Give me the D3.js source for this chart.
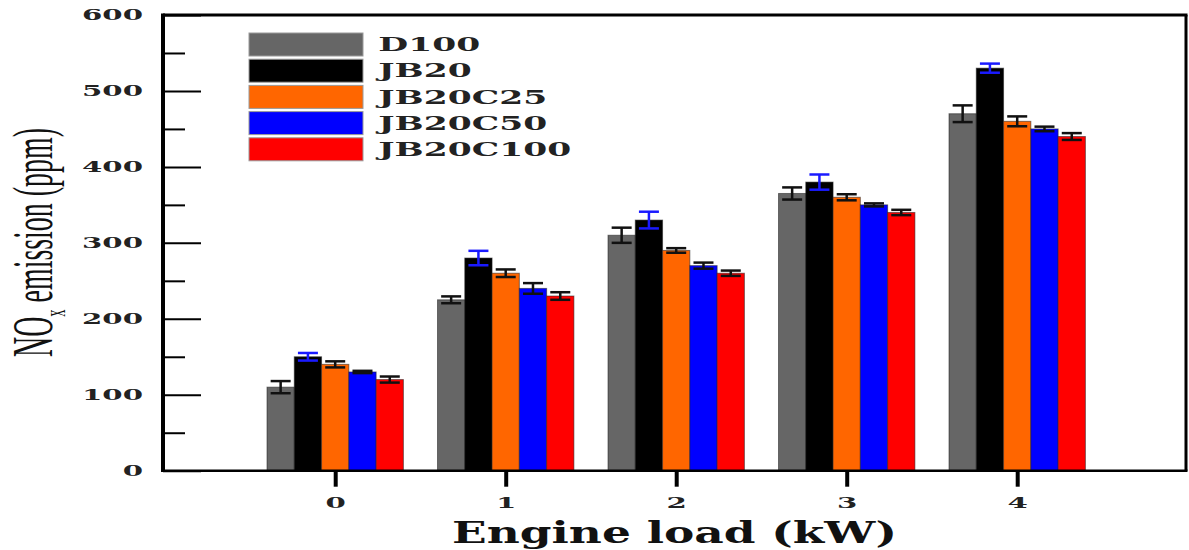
<!DOCTYPE html>
<html>
<head>
<meta charset="utf-8">
<script src="https://cdn.jsdelivr.net/npm/d3@7"></script>
<style>
  html, body { margin: 0; padding: 0; background: #fff; }
  svg { display: block; }
</style>
</head>
<body>
<svg id="chart" width="1189" height="550"></svg>
<script>
// Engine load categories (kW)
const loads = [0, 1, 2, 3, 4];
const seriesNames = ["D100", "JB20", "JB20C25", "JB20C50", "JB20C100"];

// NOx emission (ppm) per fuel blend
const d100     = [110, 225, 310, 365, 470];
const jb20     = [150, 280, 330, 380, 530];
const jb20c25  = [140, 260, 290, 360, 460];
const jb20c50  = [130, 240, 270, 350, 450];
const jb20c100 = [120, 230, 260, 340, 440];

// Error bar half-heights (ppm)
const d100Err     = [8, 4.5, 10, 8, 11];
const jb20Err     = [5, 9.5, 11, 10, 6];
const jb20c25Err  = [4, 5, 3, 4, 6.5];
const jb20c50Err  = [1.5, 7, 4, 2, 3];
const jb20c100Err = [4, 5, 3.5, 3.5, 4.5];

const yTicks = [0, 100, 200, 300, 400, 500, 600];
const yMinorTicks = [50, 150, 250, 350, 450, 550];

const seriesValues = [d100, jb20, jb20c25, jb20c50, jb20c100];
const seriesErrors = [d100Err, jb20Err, jb20c25Err, jb20c50Err, jb20c100Err];
const barColors = ["#666666", "#000000", "#ff6600", "#0000ff", "#ff0000"];
const errColors = ["#111111", "#1a1aff", "#111111", "#111111", "#111111"];

const svg = d3.select("#chart");
const plotLeft = 163, plotRight = 1186, plotTop = 15, plotBottom = 470.7;

const x = d3.scaleLinear().domain([-1.01, 4.99]).range([plotLeft, plotRight]);
const y = d3.scaleLinear().domain([0, 600]).range([plotBottom, plotTop]);

const barUnit = 0.16;                        // bar width in category units
const barW = x(barUnit) - x(0);

const serifBold = "'DejaVu Serif', serif";

// Bars
const plot = svg.append("g");
seriesValues.forEach((vals, j) => {
  const g = plot.append("g");
  g.selectAll("rect")
    .data(loads.map((c, i) => ({ c, v: vals[i] })))
    .join("rect")
    .attr("x", d => x(d.c + (j - 2.5) * barUnit))
    .attr("y", d => y(d.v))
    .attr("width", barW)
    .attr("height", d => y(0) - y(d.v))
    .attr("fill", barColors[j])
    .attr("stroke", "#222")
    .attr("stroke-opacity", 0.55)
    .attr("stroke-width", 1);
});

// Error bars
seriesValues.forEach((vals, j) => {
  const errs = seriesErrors[j];
  const g = plot.append("g")
    .attr("stroke", errColors[j])
    .attr("stroke-width", 2.5);
  const data = loads.map((c, i) => ({ c, v: vals[i], e: errs[i] }));
  const cx = d => x(d.c + (j - 2) * barUnit);
  const cap = 10;
  g.selectAll("line.v").data(data).join("line").attr("class", "v")
    .attr("x1", cx).attr("x2", cx)
    .attr("y1", d => y(d.v + d.e)).attr("y2", d => y(d.v - d.e));
  g.selectAll("line.t").data(data).join("line").attr("class", "t")
    .attr("x1", d => cx(d) - cap).attr("x2", d => cx(d) + cap)
    .attr("y1", d => y(d.v + d.e)).attr("y2", d => y(d.v + d.e));
  g.selectAll("line.b").data(data).join("line").attr("class", "b")
    .attr("x1", d => cx(d) - cap).attr("x2", d => cx(d) + cap)
    .attr("y1", d => y(d.v - d.e)).attr("y2", d => y(d.v - d.e));
});

// Y axis: major ticks pointing inward, with labels
const yAxisG = svg.append("g")
  .attr("transform", `translate(${plotLeft},0)`)
  .call(d3.axisLeft(y).tickValues(yTicks).tickSize(-38).tickPadding(20));
yAxisG.select(".domain").remove();
yAxisG.selectAll(".tick line").attr("stroke", "#000").attr("stroke-width", 2);
const yLabels = yAxisG.selectAll(".tick text")
  .attr("font-family", serifBold)
  .attr("font-weight", "bold")
  .attr("font-size", 14)
  .attr("fill", "#222");
// widen tick digits
const nat600 = yLabels.filter(d => d === 600).node().getComputedTextLength();
const tickStretch = 61 / nat600;
yLabels.attr("x", 0)
  .attr("transform", `translate(-20,0) scale(${tickStretch},1)`);

// Y axis minor ticks
const yMinorG = svg.append("g")
  .attr("transform", `translate(${plotLeft},0)`)
  .call(d3.axisLeft(y).tickValues(yMinorTicks).tickSize(-22).tickFormat(""));
yMinorG.select(".domain").remove();
yMinorG.selectAll(".tick line").attr("stroke", "#000").attr("stroke-width", 2);

// X axis: ticks pointing outward
const xAxisG = svg.append("g")
  .attr("transform", `translate(0,${plotBottom})`)
  .call(d3.axisBottom(x).tickValues(loads).tickSize(16).tickFormat(d3.format("d")));
xAxisG.select(".domain").remove();
xAxisG.selectAll(".tick line").attr("stroke", "#000").attr("stroke-width", 4);
xAxisG.selectAll(".tick text")
  .attr("font-family", serifBold)
  .attr("font-weight", "bold")
  .attr("font-size", 14)
  .attr("fill", "#222")
  .attr("y", 0).attr("dy", null)
  .attr("transform", `translate(0,37.4) scale(${tickStretch},1)`);

// Frame
const frame = svg.append("g").attr("stroke", "#000").attr("fill", "none");
frame.append("line").attr("x1", plotLeft).attr("x2", plotRight + 1.5).attr("y1", plotTop).attr("y2", plotTop).attr("stroke-width", 3);
frame.append("line").attr("x1", plotRight).attr("x2", plotRight).attr("y1", plotTop).attr("y2", plotBottom).attr("stroke-width", 3);
frame.append("line").attr("x1", plotLeft).attr("x2", plotRight + 1.5).attr("y1", plotBottom).attr("y2", plotBottom).attr("stroke-width", 2.5);
frame.append("line").attr("x1", plotLeft).attr("x2", plotLeft).attr("y1", plotTop - 1.5).attr("y2", plotBottom + 1.2).attr("stroke-width", 4);

// Legend
const legend = svg.append("g");
const rowStep = 26.2;
seriesNames.forEach((name, i) => {
  const ry = 33 + i * rowStep;
  legend.append("rect")
    .attr("x", 249).attr("y", ry)
    .attr("width", 114).attr("height", 23)
    .attr("fill", barColors[i])
    .attr("stroke", "#9a9a9a").attr("stroke-width", 1);
  legend.append("text")
    .attr("class", "legtext")
    .attr("font-family", serifBold)
    .attr("font-weight", "bold")
    .attr("font-size", 18)
    .attr("fill", "#222")
    .attr("data-y", ry + 11.5 + 6.6)
    .text(name);
});
const legTexts = legend.selectAll("text.legtext");
const longest = legTexts.filter(function () { return this.textContent === "JB20C100"; }).node();
const legStretch = 193 / longest.getComputedTextLength();
legTexts.attr("transform", function () {
  return `translate(378.3,${this.getAttribute("data-y")}) scale(${legStretch},1)`;
});

// X axis title
const xTitle = svg.append("text")
  .attr("font-family", serifBold)
  .attr("font-weight", "bold")
  .attr("font-size", 30)
  .attr("fill", "#111")
  .attr("text-anchor", "middle")
  .text("Engine load (kW)");
const xTitleStretch = 445 / xTitle.node().getComputedTextLength();
xTitle.attr("transform", `translate(${(plotLeft + plotRight) / 2},543.3) scale(${xTitleStretch},1)`);

// Y axis title with subscript
const yTitle = svg.append("text")
  .attr("font-family", "'Liberation Serif', 'Times New Roman', serif")
  .attr("font-size", 58)
  .attr("fill", "#111")
  .attr("text-anchor", "middle");
yTitle.append("tspan").text("NO");
yTitle.append("tspan").attr("font-size", 30).attr("dy", 13).text("x");
yTitle.append("tspan").attr("dy", -13).text(" emission (ppm)");
const yTitleLen = yTitle.node().getComputedTextLength();
const yTitleStretch = 229 / yTitleLen;
yTitle.attr("transform", `translate(52,242.5) rotate(-90) scale(${yTitleStretch},1)`);
</script>
</body>
</html>
